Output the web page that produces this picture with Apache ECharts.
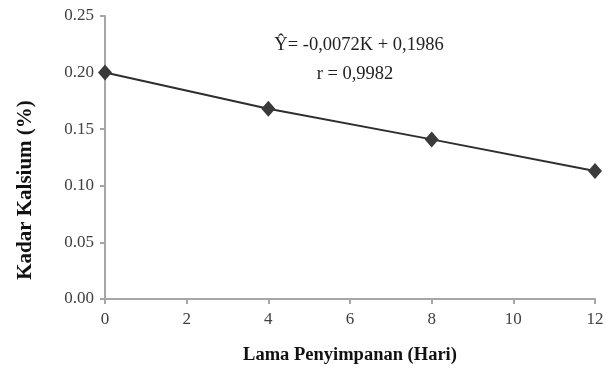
<!DOCTYPE html>
<html>
<head>
<meta charset="utf-8">
<script src="https://cdn.jsdelivr.net/npm/echarts@6/dist/echarts.min.js"></script>
<style>
  html, body { margin: 0; padding: 0; background: #fff; }
  #chart { width: 612px; height: 379px; }
</style>
</head>
<body>
<div id="chart"></div>
<script>
// hari penyimpanan dan kadar kalsium
const days = [0, 4, 8, 12];
const kalsium = [0.200, 0.168, 0.141, 0.113];
const eqText = ['Ŷ= -0,0072K + 0,1986', 'r = 0,9982'];
const yTitle = 'Kadar Kalsium (%)';
const xTitle = 'Lama Penyimpanan (Hari)';

const myChart = echarts.init(document.getElementById('chart'));
const axisColor = '#a6a6a6';
const labelStyle = { color: '#404040', fontFamily: 'Liberation Serif', fontSize: 17 };

const option = {
  animation: false,
  grid: { left: 105, right: 17, top: 16, bottom: 80 },
  xAxis: {
    type: 'value',
    min: 0, max: 12, interval: 2,
    name: xTitle,
    nameLocation: 'middle',
    nameGap: 47,
    nameTextStyle: { color: '#111', fontFamily: 'Liberation Serif', fontSize: 18.5, fontWeight: 'bold' },
    axisLine: { lineStyle: { color: axisColor, width: 2 } },
    axisTick: { length: 5, lineStyle: { color: axisColor, width: 2 } },
    axisLabel: Object.assign({ margin: 12 }, labelStyle),
    splitLine: { show: false }
  },
  yAxis: {
    type: 'value',
    min: 0, max: 0.25, interval: 0.05,
    axisLine: { show: true, lineStyle: { color: axisColor, width: 2 } },
    axisTick: { show: true, length: 5, lineStyle: { color: axisColor, width: 2 } },
    axisLabel: Object.assign({ margin: 11, formatter: v => v.toFixed(2) }, labelStyle),
    splitLine: { show: false }
  },
  graphic: [
    {
      type: 'text', x: 26, y: 190, rotation: Math.PI / 2,
      style: { text: yTitle, fill: '#111', font: 'bold 21px "Liberation Serif"', align: 'center', verticalAlign: 'middle' }
    },
    {
      type: 'text', x: 359, y: 45,
      style: { text: eqText[0], fill: '#222', font: '18.5px "Liberation Serif"', align: 'center', verticalAlign: 'middle' }
    },
    {
      type: 'text', x: 355, y: 74,
      style: { text: eqText[1], fill: '#222', font: '18.5px "Liberation Serif"', align: 'center', verticalAlign: 'middle' }
    }
  ],
  series: [
    {
      type: 'line',
      data: days.map((d, i) => [d, kalsium[i]]),
      symbol: 'diamond',
      symbolSize: [14, 16],
      itemStyle: { color: '#3a3a3a' },
      lineStyle: { color: '#2e2e2e', width: 2 }
    }
  ]
};
myChart.setOption(option);
</script>
</body>
</html>
